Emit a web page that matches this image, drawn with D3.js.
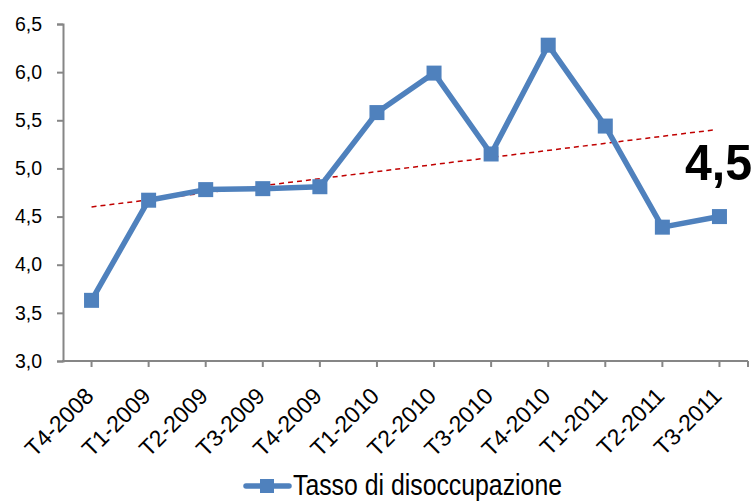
<!DOCTYPE html>
<html><head><meta charset="utf-8">
<script src="https://cdn.jsdelivr.net/npm/d3@7"></script>
<style>body{margin:0;background:#fff}svg{display:block}</style>
</head><body>
<svg id="c" width="756" height="501"></svg>
<script>
const categories = ["T4-2008","T1-2009","T2-2009","T3-2009","T4-2009","T1-2010","T2-2010","T3-2010","T4-2010","T1-2011","T2-2011","T3-2011"];
const values = [3.63,4.67,4.78,4.79,4.81,5.58,5.99,5.15,6.28,5.44,4.39,4.50];
const yTicks = [3.0,3.5,4.0,4.5,5.0,5.5,6.0,6.5];
const trendIdx = [0, 10.9];
const trendVal = [4.60, 5.40];
const seriesName = "Tasso di disoccupazione";
const lastLabel = "4,5";

const svg = d3.select("#c");
const L = 63, R = 748, T = 24, B = 361;
const x = d3.scaleBand().domain(categories).range([L, R]);
const xi = d3.scaleLinear().domain([0, categories.length - 1]).range([x(categories[0]) + x.bandwidth()/2, x(categories[categories.length-1]) + x.bandwidth()/2]);
const y = d3.scaleLinear().domain([3, 6.5]).range([B, T]);
const fmt = v => d3.format(".1f")(v).replace(".", ",");
const axisColor = "#868686";
const font = "'Liberation Sans Narrow', 'Arial Narrow', 'Liberation Sans', sans-serif";
const boldFont = "'Liberation Sans', Arial, sans-serif";

// y axis
const ya = svg.append("g").attr("transform", `translate(${L},0)`)
  .call(d3.axisLeft(y).tickValues(yTicks).tickFormat(fmt).tickSize(6).tickPadding(15));
ya.select(".domain").attr("stroke", axisColor).attr("stroke-width", 2);
ya.selectAll(".tick line").attr("stroke", axisColor).attr("stroke-width", 2);
ya.selectAll(".tick text").attr("font-family", font).attr("font-size", 19.5).attr("fill", "#000");

// x axis
const xa = svg.append("g").attr("transform", `translate(0,${B})`);
xa.append("line").attr("x1", L - 1).attr("x2", R).attr("stroke", axisColor).attr("stroke-width", 2);
const tickXs = categories.map((c, i) => xi(i)).concat([R]);
xa.selectAll("line.t").data(tickXs).join("line").attr("class", "t")
  .attr("x1", d => d).attr("x2", d => d).attr("y1", 0).attr("y2", 6)
  .attr("stroke", axisColor).attr("stroke-width", 2);
xa.selectAll("text").data(categories).join("text")
  .attr("transform", (d, i) => `translate(${xi(i) + 3.5},${36.5}) rotate(-45)`)
  .attr("text-anchor", "end")
  .attr("font-family", font).attr("font-size", 23).attr("fill", "#000")
  .text(d => d);

// trend line
svg.append("line")
  .attr("x1", xi(trendIdx[0])).attr("y1", y(trendVal[0]))
  .attr("x2", xi(trendIdx[1])).attr("y2", y(trendVal[1]))
  .attr("stroke", "#c00000").attr("stroke-width", 1.5).attr("stroke-dasharray", "5,4");

// series
const blue = "#4f81bd";
svg.append("path").datum(values)
  .attr("d", d3.line().x((d, i) => xi(i)).y(d => y(d)))
  .attr("fill", "none").attr("stroke", blue).attr("stroke-width", 5.5).attr("stroke-linejoin", "round");
const ms = 15;
svg.selectAll("rect.m").data(values).join("rect").attr("class", "m")
  .attr("x", (d, i) => xi(i) - ms/2).attr("y", d => y(d) - ms/2)
  .attr("width", ms).attr("height", ms).attr("fill", blue);

// big label
svg.append("text").attr("x", 685).attr("y", 180)
  .attr("font-family", boldFont).attr("font-weight", "bold").attr("font-size", 50)
  .attr("textLength", 67).attr("lengthAdjust", "spacingAndGlyphs")
  .attr("fill", "#000").text(lastLabel);

// legend
const lg = svg.append("g");
lg.append("line").attr("x1", 246).attr("x2", 289).attr("y1", 486).attr("y2", 486)
  .attr("stroke", blue).attr("stroke-width", 5.5).attr("stroke-linecap", "round");
lg.append("rect").attr("x", 260).attr("y", 479).attr("width", 14).attr("height", 14).attr("fill", blue);
lg.append("text").attr("x", 293).attr("y", 495)
  .attr("font-family", font).attr("font-size", 30)
  .attr("textLength", 269).attr("lengthAdjust", "spacingAndGlyphs")
  .attr("fill", "#000").text(seriesName);
</script>
</body></html>
